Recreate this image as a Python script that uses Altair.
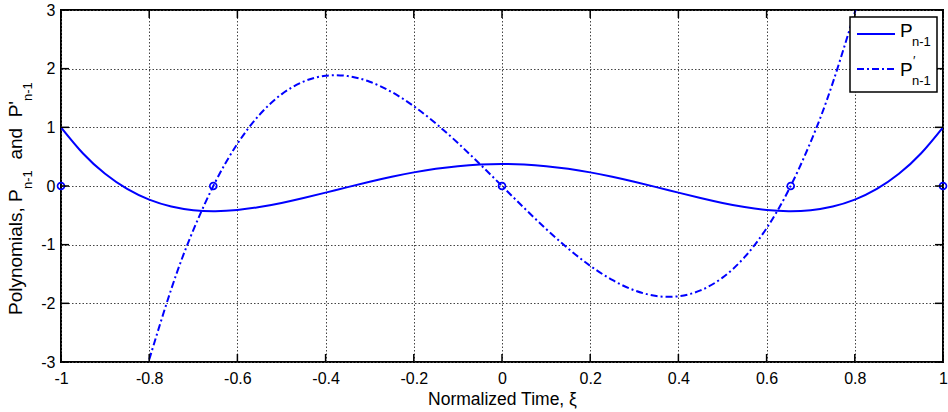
import altair as alt
import pandas as pd

# ---------------- data ----------------
xs = [-1.0, -0.95, -0.9, -0.85, -0.8, -0.75, -0.7, -0.65, -0.6, -0.55, -0.5,
      -0.45, -0.4, -0.35, -0.3, -0.25, -0.2, -0.15, -0.1, -0.05, 0.0,
      0.05, 0.1, 0.15, 0.2, 0.25, 0.3, 0.35, 0.4, 0.45, 0.5,
      0.55, 0.6, 0.65, 0.7, 0.75, 0.8, 0.85, 0.9, 0.95, 1.0]
p_vals = [1.0, 0.5541, 0.2079, -0.0506, -0.233, -0.3501, -0.4121, -0.4284, -0.408, -0.359, -0.2891,
          -0.205, -0.113, -0.0187, 0.0729, 0.1577, 0.232, 0.2928, 0.3379, 0.3657, 0.375,
          0.3657, 0.3379, 0.2928, 0.232, 0.1577, 0.0729, -0.0187, -0.113, -0.205, -0.2891,
          -0.359, -0.408, -0.4284, -0.4121, -0.3501, -0.233, -0.0506, 0.2079, 0.5541, 1.0]

dxs = [-0.8015, -0.8, -0.75, -0.7, -0.65, -0.6, -0.55, -0.5, -0.45, -0.4, -0.35,
       -0.3, -0.25, -0.2, -0.15, -0.1, -0.05, 0.0, 0.05, 0.1, 0.15, 0.2, 0.25,
       0.3, 0.35, 0.4, 0.45, 0.5, 0.55, 0.6, 0.65, 0.7, 0.75, 0.8, 0.8015]
d_vals = [-3.0, -2.96, -1.7578, -0.7525, 0.0691, 0.72, 1.2134, 1.5625, 1.7803, 1.88, 1.8747,
          1.7775, 1.6016, 1.36, 1.0659, 0.7325, 0.3728, 0.0, -0.3728, -0.7325, -1.0659, -1.36, -1.6016,
          -1.7775, -1.8747, -1.88, -1.7803, -1.5625, -1.2134, -0.72, -0.0691, 0.7525, 1.7578, 2.96, 3.0]

node_x = [-1.0, -0.6547, 0.0, 0.6547, 1.0]
node_y = [0.0, 0.0, 0.0, 0.0, 0.0]

x_ticks = [-1, -0.8, -0.6, -0.4, -0.2, 0, 0.2, 0.4, 0.6, 0.8, 1]
y_ticks = [-3, -2, -1, 0, 1, 2, 3]

x_title = "Normalized Time, ξ"
legend_main = ["P", "P"]
legend_sub = ["n-1", "n-1"]

# ---------------- layout ----------------
W, H = 882, 352
FONT = "Liberation Sans"
BLUE = "#0000FF"

df_p = pd.DataFrame({"x": xs, "y": p_vals})
df_d = pd.DataFrame({"x": dxs, "y": d_vals})
df_n = pd.DataFrame({"x": node_x, "y": node_y})
df_xt = pd.DataFrame({"x": x_ticks})
df_yt = pd.DataFrame({"y": y_ticks})
one = pd.DataFrame({"k": [0]})

xscale = alt.Scale(domain=[-1, 1], nice=False, zero=False)
yscale = alt.Scale(domain=[-3, 3], nice=False, zero=False)

xaxis = alt.Axis(values=x_ticks, labelExpr="'' + datum.value", title=x_title,
                 domain=False, ticks=False, tickSize=0, labelPadding=8,
                 labelFontSize=16, labelFont=FONT, labelColor="#000",
                 titleFontSize=17.5, titleFont=FONT, titleFontWeight="normal",
                 titleColor="#000", titleBaseline="alphabetic", titleY=42.5,
                 grid=True, gridColor="#444", gridDash=[1.5, 2], gridWidth=1,
                 gridOpacity=1, labelFlush=False)
yaxis = alt.Axis(values=y_ticks, labelExpr="'' + datum.value", title=None,
                 domain=False, ticks=False, tickSize=0, labelPadding=6,
                 labelFontSize=16, labelFont=FONT, labelColor="#000",
                 grid=True, gridColor="#444", gridDash=[1.5, 2], gridWidth=1,
                 gridOpacity=1, labelFlush=False)

line_p = alt.Chart(df_p).mark_line(color=BLUE, strokeWidth=2, interpolate="natural", clip=True).encode(
    x=alt.X("x:Q", scale=xscale, axis=xaxis),
    y=alt.Y("y:Q", scale=yscale, axis=yaxis),
)
line_d = alt.Chart(df_d).mark_line(color=BLUE, strokeWidth=2, interpolate="natural",
                                   strokeDash=[7, 3, 2, 3], clip=True).encode(
    x=alt.X("x:Q", scale=xscale),
    y=alt.Y("y:Q", scale=yscale),
)
nodes = alt.Chart(df_n).mark_point(color=BLUE, filled=False, size=48, strokeWidth=1.7,
                                   shape="circle", opacity=1).encode(
    x=alt.X("x:Q", scale=xscale),
    y=alt.Y("y:Q", scale=yscale),
)

# inward ticks on all four sides
tk = dict(color="#000", strokeWidth=1.5)
t_bottom = alt.Chart(df_xt).mark_rule(**tk).encode(
    x=alt.X("x:Q", scale=xscale), y=alt.value(H), y2=alt.value(H - 8))
t_top = alt.Chart(df_xt).mark_rule(**tk).encode(
    x=alt.X("x:Q", scale=xscale), y=alt.value(0), y2=alt.value(8))
t_left = alt.Chart(df_yt).mark_rule(**tk).encode(
    y=alt.Y("y:Q", scale=yscale), x=alt.value(0), x2=alt.value(8))
t_right = alt.Chart(df_yt).mark_rule(**tk).encode(
    y=alt.Y("y:Q", scale=yscale), x=alt.value(W), x2=alt.value(W - 8))

# y-axis title with subscripts (rotated text pieces)
def rtext(txt, x, y, size):
    return alt.Chart(one).mark_text(text=txt, angle=270, align="left", baseline="alphabetic",
                                    font=FONT, fontSize=size, color="#000").encode(
        x=alt.value(x), y=alt.value(y))

ytitle = [
    rtext("Polynomials, P", -39, 305, 19),
    rtext("n-1", -29.5, 179, 13),
    rtext("and", -39, 149.6, 19),
    rtext("P'", -39, 107.3, 19),
    rtext("n-1", -29.5, 91, 13),
]

# legend box
lx0, lx1, ly0, ly1 = 789, 876, 7, 82
leg_box = alt.Chart(one).mark_rect(fill="white", stroke="#000", strokeWidth=1.5).encode(
    x=alt.value(lx0), x2=alt.value(lx1), y=alt.value(ly0), y2=alt.value(ly1))
leg_l1 = alt.Chart(one).mark_rule(color=BLUE, strokeWidth=2).encode(
    x=alt.value(796), x2=alt.value(834), y=alt.value(24))
leg_l2 = alt.Chart(one).mark_rule(color=BLUE, strokeWidth=2, strokeDash=[7, 3, 2, 3]).encode(
    x=alt.value(796), x2=alt.value(834), y=alt.value(59))

def ltext(txt, x, y, size):
    return alt.Chart(one).mark_text(text=txt, align="left", baseline="alphabetic",
                                    font=FONT, fontSize=size, color="#000").encode(
        x=alt.value(x), y=alt.value(y))

leg_txt = [
    ltext(legend_main[0], 839, 27, 19),
    ltext(legend_sub[0], 851, 36, 13),
    ltext(legend_main[1], 839, 66, 19),
    ltext("′", 852, 55, 13),
    ltext(legend_sub[1], 851, 75, 13),
]

chart = alt.layer(
    line_p, line_d, nodes, t_bottom, t_top, t_left, t_right,
    *ytitle, leg_box, leg_l1, leg_l2, *leg_txt
).properties(
    width=W, height=H,
    autosize=alt.AutoSizeParams(type="none"),
    padding={"left": 61, "top": 10, "right": 5, "bottom": 50},
).configure(font=FONT).configure_view(stroke="#000", strokeWidth=2)

chart.save("out.html", embed_options={"renderer": "svg", "actions": False})
